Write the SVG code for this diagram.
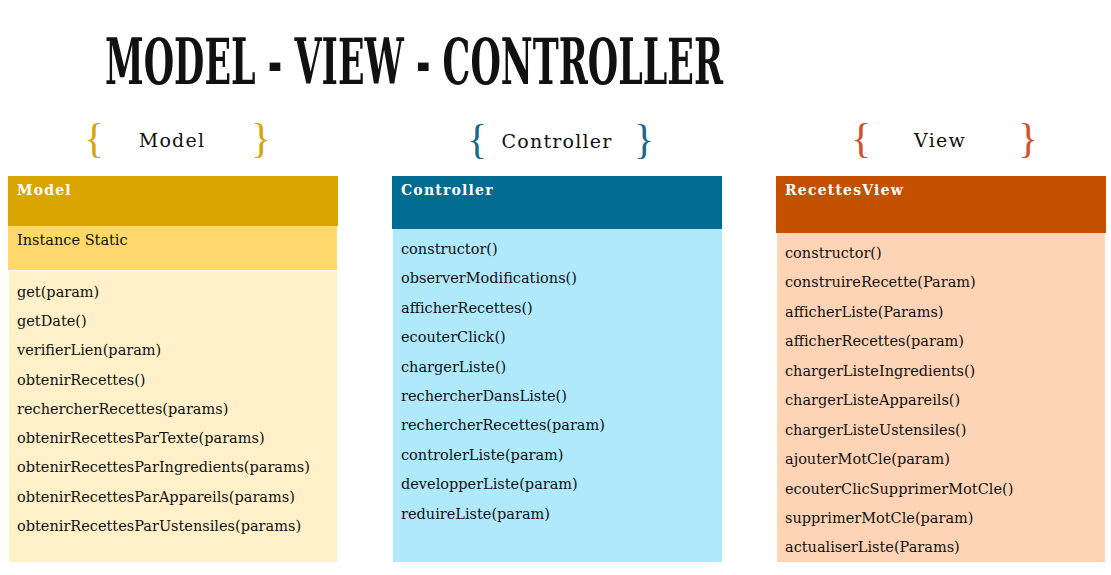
<svg xmlns="http://www.w3.org/2000/svg" width="1111" height="575" viewBox="0 0 1111 575">
<style>
.title{font-family:"DejaVu Serif Condensed","DejaVu Serif",serif;font-weight:bold;font-size:64px;fill:#111}
.lbl{font-family:"DejaVu Serif",serif;font-size:19px;letter-spacing:1.2px;fill:#111}
.brace{font-family:"Liberation Serif",serif;font-size:42px}
.hdr{font-family:"DejaVu Serif",serif;font-weight:bold;font-size:14px;letter-spacing:1.2px;fill:#fff}
.row{font-family:"DejaVu Serif",serif;font-size:14.5px;fill:#111}
</style>
<rect width="1111" height="575" fill="#fff"/>
<text class="title" x="105" y="84" textLength="618" lengthAdjust="spacingAndGlyphs">MODEL - VIEW - CONTROLLER</text>

<g id="label-model">
<text class="brace" x="84" y="152" fill="#D9A40A">{</text>
<text class="lbl" x="172" y="147" text-anchor="middle">Model</text>
<text class="brace" x="251" y="152" fill="#D9A40A">}</text>
</g>
<g id="label-controller">
<text class="brace" x="467" y="153" fill="#1B6A8C">{</text>
<text class="lbl" x="557" y="148" text-anchor="middle">Controller</text>
<text class="brace" x="634" y="153" fill="#1B6A8C">}</text>
</g>
<g id="label-view">
<text class="brace" x="851" y="152" fill="#D4502A">{</text>
<text class="lbl" x="940" y="147" text-anchor="middle">View</text>
<text class="brace" x="1018" y="152" fill="#D4502A">}</text>
</g>

<g id="model">
<rect x="8" y="176" width="330" height="50" fill="#DBA500"/>
<text class="hdr" x="17" y="195">Model</text>
<rect x="8" y="226" width="329" height="44" fill="#FFD86C"/>
<text class="row" x="17" y="245">Instance Static</text>
<rect x="9" y="271" width="328" height="291" fill="#FFF0C9"/>
<g>
<text class="row" x="17" y="297">get(param)</text>
<text class="row" x="17" y="326">getDate()</text>
<text class="row" x="17" y="355">verifierLien(param)</text>
<text class="row" x="17" y="385">obtenirRecettes()</text>
<text class="row" x="17" y="414">rechercherRecettes(params)</text>
<text class="row" x="17" y="443">obtenirRecettesParTexte(params)</text>
<text class="row" x="17" y="472">obtenirRecettesParIngredients(params)</text>
<text class="row" x="17" y="502">obtenirRecettesParAppareils(params)</text>
<text class="row" x="17" y="531">obtenirRecettesParUstensiles(params)</text>
</g>
</g>

<g id="controller">
<rect x="392" y="176" width="330" height="53" fill="#006C92"/>
<text class="hdr" x="401" y="195">Controller</text>
<rect x="393" y="229" width="329" height="333" fill="#B0E8FC"/>
<text class="row" x="401" y="254">constructor()</text>
<text class="row" x="401" y="283">observerModifications()</text>
<text class="row" x="401" y="313">afficherRecettes()</text>
<text class="row" x="401" y="342">ecouterClick()</text>
<text class="row" x="401" y="372">chargerListe()</text>
<text class="row" x="401" y="401">rechercherDansListe()</text>
<text class="row" x="401" y="430">rechercherRecettes(param)</text>
<text class="row" x="401" y="460">controlerListe(param)</text>
<text class="row" x="401" y="489">developperListe(param)</text>
<text class="row" x="401" y="519">reduireListe(param)</text>
</g>

<g id="view">
<rect x="776" y="176" width="330" height="57" fill="#C45100"/>
<text class="hdr" x="785" y="195">RecettesView</text>
<rect x="777" y="233" width="328" height="329" fill="#FFD4B6"/>
<text class="row" x="785" y="258">constructor()</text>
<text class="row" x="785" y="287">construireRecette(Param)</text>
<text class="row" x="785" y="317">afficherListe(Params)</text>
<text class="row" x="785" y="346">afficherRecettes(param)</text>
<text class="row" x="785" y="376">chargerListeIngredients()</text>
<text class="row" x="785" y="405">chargerListeAppareils()</text>
<text class="row" x="785" y="435">chargerListeUstensiles()</text>
<text class="row" x="785" y="464">ajouterMotCle(param)</text>
<text class="row" x="785" y="494">ecouterClicSupprimerMotCle()</text>
<text class="row" x="785" y="523">supprimerMotCle(param)</text>
<text class="row" x="785" y="552">actualiserListe(Params)</text>
</g>
<g id="connectors"/>
</svg>
